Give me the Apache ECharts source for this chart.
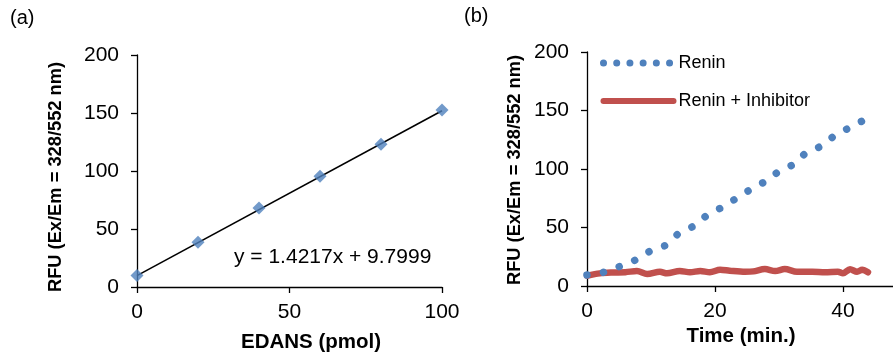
<!DOCTYPE html>
<html>
<head>
<meta charset="utf-8">
<script src="https://cdn.jsdelivr.net/npm/echarts@6/dist/echarts.min.js"></script>
<style>
  html, body { margin: 0; padding: 0; background: #fff; }
  #chart { width: 893px; height: 358px; }
</style>
</head>
<body>
<div id="chart"></div>
<script>
// (a) EDANS standard curve
const edansPmol = [0, 20, 40, 60, 80, 100];
const edansRfu = [10, 38.5, 68, 95.5, 123, 152.5];
const trendSlope = 1.4217;
const trendIntercept = 9.7999;

// (b) kinetics
const reninTime = [0, 2.4, 5.0, 7.4, 9.7, 12.2, 14.1, 16.5, 18.6, 20.9, 23.2, 25.4, 27.7, 29.7, 32.0, 34.0, 36.4, 38.6, 41.0, 43.3];
const reninRfu = [9.4, 11.4, 16.5, 21.7, 29.3, 34.5, 43.9, 50.7, 59.8, 66.7, 74.4, 82, 88.9, 96.9, 103.1, 112.8, 119.1, 128.2, 135.3, 141.9];
const inhibTime = [0, 2, 4, 6, 7.8, 9.4, 11.4, 12.5, 14.5, 16.1, 17.7, 19.2, 20.8, 22.3, 24.7, 26, 27.8, 29.4, 30.9, 32.8, 35.2, 37.2, 39.2, 40, 41.1, 42.2, 43, 43.9];
const inhibRfu = [8.8, 10.8, 11.5, 11.8, 12.8, 10.3, 12.2, 10.8, 12.8, 11.7, 12.8, 11.7, 13.9, 13.1, 12.2, 12.5, 14.5, 12.8, 14.5, 12.2, 12.2, 11.7, 12.2, 10.8, 14.3, 12.2, 13.9, 11.7];

const yTicks = { min: 0, max: 200, interval: 50 };
const yTitle = 'RFU (Ex/Em = 328/552 nm)';

const BLUE = '#4F81BD';
const RED = '#C0504D';
const FONT = 'Liberation Sans, Arial, sans-serif';

const zip = (a, b) => a.map((v, i) => [v, b[i]]);

function axisCommon(labelMargin) {
  return {
    axisLine: { show: true, onZero: false, lineStyle: { color: '#000', width: 1.3 } },
    axisTick: { show: true, inside: false, length: 6, lineStyle: { color: '#000', width: 1.3 } },
    splitLine: { show: false },
    axisLabel: { color: '#000', fontSize: 21, fontFamily: FONT, margin: labelMargin }
  };
}

const chart = echarts.init(document.getElementById('chart'), null, { renderer: 'canvas' });

const trendX = [edansPmol[0], edansPmol[edansPmol.length - 1]];

chart.setOption({
  animation: false,
  backgroundColor: '#fff',
  grid: [
    { left: 137, top: 55, width: 305, height: 232, outerBoundsMode: 'none', containLabel: false },
    { left: 587, top: 52, width: 320, height: 234, outerBoundsMode: 'none', containLabel: false }
  ],
  xAxis: [
    Object.assign(axisCommon(15), { gridIndex: 0, type: 'value', min: 0, max: 100, interval: 50 }),
    Object.assign(axisCommon(15), { gridIndex: 1, type: 'value', min: 0, max: 50, interval: 20 })
  ],
  yAxis: [
    Object.assign(axisCommon(18), { gridIndex: 0, type: 'value', ...yTicks }),
    Object.assign(axisCommon(18), { gridIndex: 1, type: 'value', ...yTicks })
  ],
  legend: {
    left: 600, top: 54, orient: 'vertical', padding: 0,
    itemWidth: 70, itemHeight: 14, itemGap: 20,
    textStyle: { color: '#000', fontSize: 18, fontFamily: FONT },
    data: [
      { name: 'Renin', itemStyle: { opacity: 0, borderWidth: 0 }, lineStyle: { width: 7, type: [0.01, 13.2], cap: 'round', color: BLUE } },
      { name: 'Renin + Inhibitor', itemStyle: { opacity: 0, borderWidth: 0 }, lineStyle: { width: 6, cap: 'round', color: RED } }
    ]
  },
  series: [
    {
      type: 'line', name: 'trend', xAxisIndex: 0, yAxisIndex: 0,
      data: trendX.map(x => [x, trendSlope * x + trendIntercept]),
      symbol: 'none', lineStyle: { color: '#000', width: 1.6 }, z: 2
    },
    {
      type: 'scatter', name: 'EDANS', xAxisIndex: 0, yAxisIndex: 0,
      data: zip(edansPmol, edansRfu),
      symbol: 'diamond', symbolSize: 13, itemStyle: { color: BLUE }, z: 3
    },
    {
      type: 'line', name: 'Renin + Inhibitor', xAxisIndex: 1, yAxisIndex: 1,
      data: zip(inhibTime, inhibRfu), smooth: 0.3,
      symbol: 'none', itemStyle: { color: RED },
      lineStyle: { color: RED, width: 6.5, cap: 'round', join: 'round' }, z: 2
    },
    {
      type: 'line', name: 'Renin', xAxisIndex: 1, yAxisIndex: 1,
      data: zip(reninTime, reninRfu),
      symbol: 'none', itemStyle: { color: BLUE },
      lineStyle: { color: BLUE, width: 7.5, type: [0.01, 16.7], cap: 'round' }, z: 3
    }
  ],
  graphic: [
    { type: 'text', left: 10, top: 8, style: { text: '(a)', fontSize: 20, fontFamily: FONT, fill: '#000' } },
    { type: 'text', left: 464, top: 6, style: { text: '(b)', fontSize: 20, fontFamily: FONT, fill: '#000' } },
    { type: 'text', x: 234, y: 257, style: { text: 'y = 1.4217x + 9.7999', fontSize: 21, fontFamily: FONT, fill: '#000', align: 'left', verticalAlign: 'middle' } },
    { type: 'text', x: 311, y: 342, style: { text: 'EDANS (pmol)', fontSize: 20.5, fontWeight: 'bold', fontFamily: FONT, fill: '#000', align: 'center', verticalAlign: 'middle' } },
    { type: 'text', x: 741, y: 336, style: { text: 'Time (min.)', fontSize: 20.5, fontWeight: 'bold', fontFamily: FONT, fill: '#000', align: 'center', verticalAlign: 'middle' } },
    { type: 'text', x: 56, y: 177, rotation: Math.PI / 2, style: { text: yTitle, fontSize: 18.3, fontWeight: 'bold', fontFamily: FONT, fill: '#000', align: 'center', verticalAlign: 'middle' } },
    { type: 'text', x: 515, y: 170, rotation: Math.PI / 2, style: { text: yTitle, fontSize: 18.3, fontWeight: 'bold', fontFamily: FONT, fill: '#000', align: 'center', verticalAlign: 'middle' } }
  ]
});
</script>
</body>
</html>
